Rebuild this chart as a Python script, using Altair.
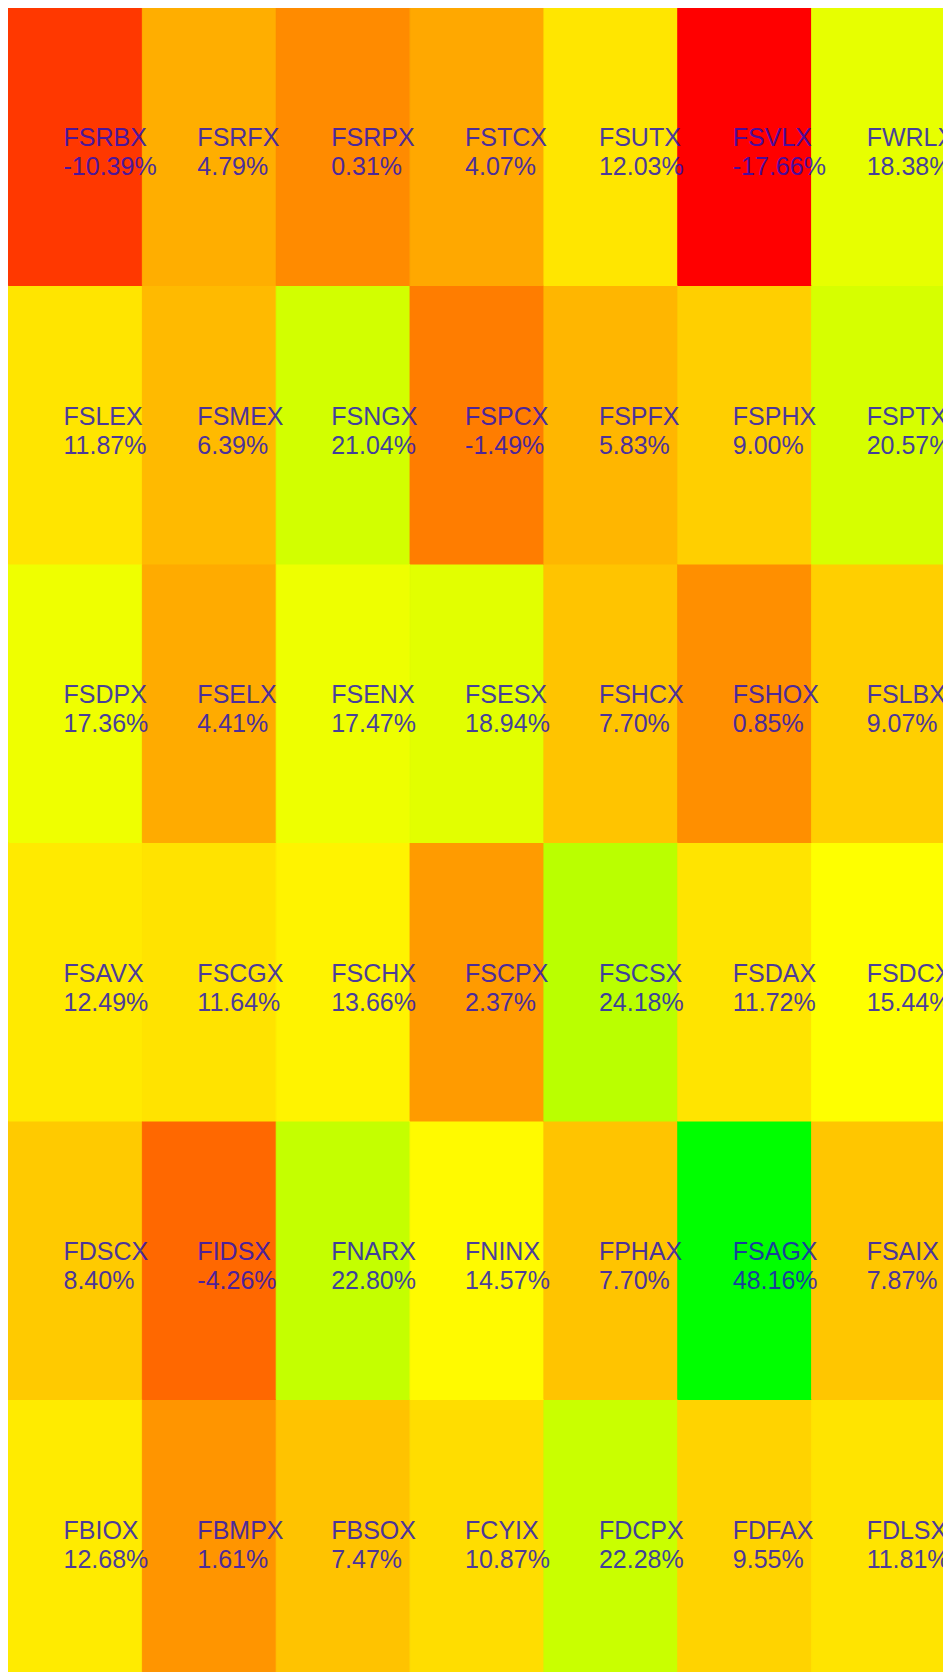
import altair as alt
import pandas as pd

# Tickers in alphabetical order (laid out from the bottom-left cell, row by row upward)
tickers = [
    "FBIOX", "FBMPX", "FBSOX", "FCYIX", "FDCPX", "FDFAX", "FDLSX",
    "FDSCX", "FIDSX", "FNARX", "FNINX", "FPHAX", "FSAGX", "FSAIX",
    "FSAVX", "FSCGX", "FSCHX", "FSCPX", "FSCSX", "FSDAX", "FSDCX",
    "FSDPX", "FSELX", "FSENX", "FSESX", "FSHCX", "FSHOX", "FSLBX",
    "FSLEX", "FSMEX", "FSNGX", "FSPCX", "FSPFX", "FSPHX", "FSPTX",
    "FSRBX", "FSRFX", "FSRPX", "FSTCX", "FSUTX", "FSVLX", "FWRLX",
]
returns = [
    12.68, 1.61, 7.47, 10.87, 22.28, 9.55, 11.81,
    8.40, -4.26, 22.80, 14.57, 7.70, 48.16, 7.87,
    12.49, 11.64, 13.66, 2.37, 24.18, 11.72, 15.44,
    17.36, 4.41, 17.47, 18.94, 7.70, 0.85, 9.07,
    11.87, 6.39, 21.04, -1.49, 5.83, 9.00, 20.57,
    -10.39, 4.79, 0.31, 4.07, 12.03, -17.66, 18.38,
]
NCOLS = 7
NROWS = len(tickers) // NCOLS

df = pd.DataFrame({"ticker": tickers, "ret": returns})
df["idx"] = range(len(df))
df["col"] = df["idx"] % NCOLS
df["col2"] = df["col"] + 1
df["row"] = df["idx"] // NCOLS
df["row2"] = df["row"] + 1
df["label"] = [f"{v:.2f}%" for v in returns]

lo, hi = min(returns), max(returns)
mid = (lo + hi) / 2

W, H = 935, 1664
xs = alt.Scale(domain=[0, NCOLS], range=[0.5, 937.5])
ys = alt.Scale(domain=[0, NROWS], range=[1670, -1])
cs = alt.Scale(domain=[lo, mid, hi], range=["#ff0000", "#ffff00", "#00ff00"],
               interpolate="rgb")

bg = alt.Chart(pd.DataFrame({"a": [0]})).mark_rect(
    color={
        "gradient": "linear", "x1": 0, "y1": 0, "x2": 0, "y2": 1,
        "stops": [
            {"offset": 0, "color": "#181b27"},
            {"offset": 0.5, "color": "#3e3f72"},
            {"offset": 1, "color": "#7c7cc4"},
        ],
    }
).encode(x=alt.value(0), x2=alt.value(W), y=alt.value(-10), y2=alt.value(H + 20))

base = alt.Chart(df)

cells = base.mark_rect(strokeWidth=1).encode(
    x=alt.X("col:Q", scale=xs, axis=None),
    x2="col2:Q",
    y=alt.Y("row:Q", scale=ys, axis=None),
    y2="row2:Q",
    color=alt.Color("ret:Q", scale=cs, legend=None),
    stroke=alt.Stroke("ret:Q", scale=cs, legend=None),
)

font = "Arial, Liberation Sans, sans-serif"
txt_style = dict(align="left", baseline="alphabetic", dx=55, font=font,
                 fontSize=25, color="#2010c0", opacity=0.8)
names = base.mark_text(dy=139, **txt_style).encode(
    x=alt.X("col:Q", scale=xs, axis=None),
    y=alt.Y("row2:Q", scale=ys, axis=None),
    text="ticker:N",
)
pcts = base.mark_text(dy=168, **txt_style).encode(
    x=alt.X("col:Q", scale=xs, axis=None),
    y=alt.Y("row2:Q", scale=ys, axis=None),
    text="label:N",
)

chart = alt.layer(bg, cells, names, pcts).properties(
    width=W, height=H,
    autosize=alt.AutoSizeParams(type="none"),
    padding=0,
).configure_view(stroke=None)

chart.save("out.html", embed_options={"renderer": "svg", "actions": False})
